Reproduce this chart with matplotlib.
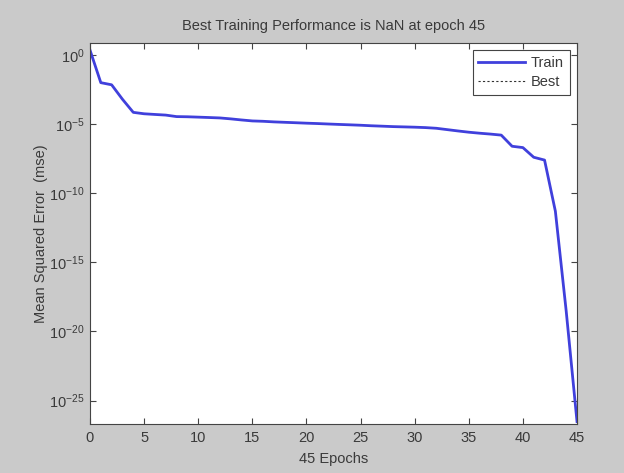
import matplotlib
matplotlib.use("Agg")
import matplotlib.pyplot as plt
from matplotlib.ticker import FixedLocator, NullLocator
import numpy as np

epochs = list(range(0, 46))
train_mse = [2.3, 1.0e-2, 7.0e-3, 6.3e-4, 7.1e-5, 5.6e-5, 5.0e-5, 4.5e-5,
             3.5e-5, 3.4e-5, 3.2e-5, 3.0e-5, 2.8e-5, 2.4e-5, 2.0e-5, 1.7e-5,
             1.6e-5, 1.45e-5, 1.35e-5, 1.26e-5, 1.17e-5, 1.1e-5, 1.02e-5,
             9.5e-6, 8.9e-6, 8.3e-6, 7.6e-6, 7.1e-6, 6.6e-6, 6.3e-6, 6.0e-6,
             5.6e-6, 5.0e-6, 4.0e-6, 3.2e-6, 2.6e-6, 2.2e-6, 1.9e-6, 1.6e-6,
             2.5e-7, 2.0e-7, 4.0e-8, 2.5e-8, 5.0e-12, 3.0e-19, 3.0e-27]
best_epoch = 45
best_value = np.nan
ytick_values = [1e0, 1e-5, 1e-10, 1e-15, 1e-20, 1e-25]
xtick_values = [0, 5, 10, 15, 20, 25, 30, 35, 40, 45]

plt.rcParams['font.family'] = ['Liberation Sans', 'DejaVu Sans']
plt.rcParams['mathtext.fontset'] = 'custom'
plt.rcParams['mathtext.rm'] = 'Liberation Sans'
plt.rcParams['mathtext.it'] = 'Liberation Sans'

FS = 10.5
fig = plt.figure(figsize=(6.24, 4.73), dpi=100, facecolor='#cacaca')
ax = fig.add_axes([0.1442, 0.1036, 0.7805, 0.8055])
ax.set_facecolor('white')

ax.plot(epochs, train_mse, color='#4040dc', linewidth=2, label='Train')
ax.plot([best_epoch], [best_value], color='#333333', linestyle=(0, (2, 2)),
        linewidth=0.8, label='Best')

ax.set_yscale('log')
ax.set_xlim(0, 45)
ax.set_ylim(10**-26.7, 10**0.87)
ax.yaxis.set_major_locator(FixedLocator(ytick_values))
ax.yaxis.set_minor_locator(NullLocator())
ax.xaxis.set_major_locator(FixedLocator(xtick_values))

txtcol = '#3a3a3a'
ax.tick_params(direction='in', top=True, right=True, length=4, width=0.8,
               colors='#444444', labelcolor=txtcol, labelsize=FS)
ax.tick_params(axis='x', pad=5)
ax.tick_params(axis='y', pad=4)
for s in ax.spines.values():
    s.set_color('#444444')
    s.set_linewidth(0.8)

ax.set_title('Best Training Performance is NaN at epoch 45', fontsize=FS, color=txtcol, pad=9)
ax.set_xlabel('45 Epochs', fontsize=FS, color=txtcol, labelpad=5)
ax.set_ylabel('Mean Squared Error  (mse)', fontsize=FS, color=txtcol, labelpad=1)

leg = ax.legend(loc='upper right', fontsize=FS, frameon=True, fancybox=False,
                edgecolor='#444444', framealpha=1, handlelength=3.2,
                handletextpad=0.4, labelspacing=0.35, borderpad=0.4,
                borderaxespad=0.5, labelcolor=txtcol)
leg.get_frame().set_linewidth(0.8)

fig.savefig('out.png', dpi=100, facecolor=fig.get_facecolor())
